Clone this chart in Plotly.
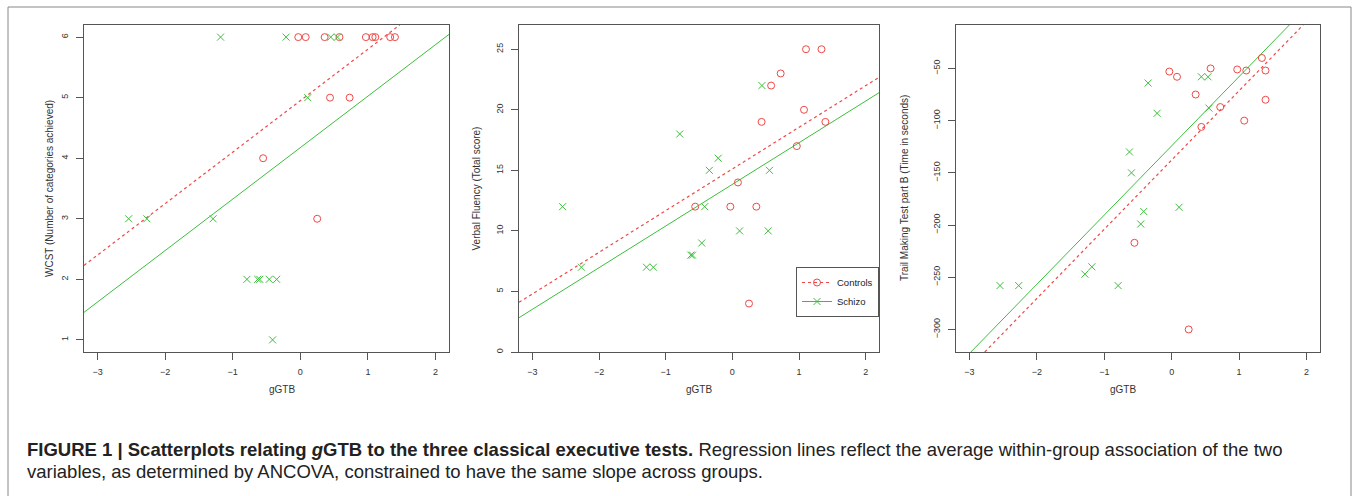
import plotly.graph_objects as go

W, H = 1355, 496

# ---------------- data ----------------
x_range = [-3.2, 2.2]
x_ticks = [-3, -2, -1, 0, 1, 2]

# Panel 1: WCST
ctrl_x_wcst = [-0.03, 0.08, 0.36, 0.58, 0.97, 1.07, 1.11, 1.33, 1.40, 0.44, 0.73, -0.55, 0.25]
ctrl_y_wcst = [6, 6, 6, 6, 6, 6, 6, 6, 6, 5, 5, 4, 3]
schz_x_wcst = [-1.18, -0.21, 0.45, 0.55, 0.11, -2.54, -2.27, -1.29, -0.79, -0.63, -0.60, -0.46, -0.35, -0.41]
schz_y_wcst = [6, 6, 6, 6, 5, 3, 3, 3, 2, 2, 2, 2, 2, 1]

# Panel 2: Verbal fluency
ctrl_x_vf = [1.105, 1.337, 0.725, 0.582, 0.439, 1.075, 1.396, 0.967, 0.084, -0.557, -0.03, 0.36, 0.25]
ctrl_y_vf = [25, 25, 23, 22, 19, 20, 19, 17, 14, 12, 12, 12, 4]
schz_x_vf = [-2.546, -2.264, -1.288, -1.184, -0.789, -0.622, -0.597, -0.459, -0.414, -0.345, -0.212, 0.109, 0.444, 0.557, 0.538]
schz_y_vf = [12, 7, 7, 7, 18, 8, 8, 9, 12, 15, 16, 10, 22, 15, 10]

# Panel 3: Trail making test B
ctrl_x_tmt = [-0.035, 0.079, 0.577, 0.355, 0.972, 1.106, 1.338, 1.392, 1.392, 0.72, 0.44, 1.076, -0.553, 0.252]
ctrl_y_tmt = [-53, -58, -50, -75, -51, -52, -40, -52, -80, -87, -106, -100, -217, -300]
schz_x_tmt = [-2.547, -2.27, -1.288, -1.185, -0.795, -0.627, -0.597, -0.459, -0.415, -0.350, -0.217, 0.109, 0.44, 0.538, 0.553]
schz_y_tmt = [-258, -258, -247, -240, -258, -130, -150, -199, -187, -64, -93, -183, -58, -58, -88]

# ANCOVA regression lines (common slope per test)
slopes = [0.85, 3.44, 66.3]
ctrl_intercepts = [4.95, 15.11, -137.7]
schz_intercepts = [4.175, 13.84, -124.1]

y_ranges = [[0.8, 6.2], [0, 27], [-321.6, -8.4]]
y_ticks = [[1, 2, 3, 4, 5, 6], [0, 5, 10, 15, 20, 25], [-300, -250, -200, -150, -100, -50]]
y_titles = ["WCST (Number of categories achieved)", "Verbal Fluency (Total score)",
            "Trail Making Test part B (Time in seconds)"]
x_title = "gGTB"

# ---------------- layout helpers ----------------
panels_px = [(84, 449), (519, 879), (956, 1320)]
top_px, bot_px = 25, 352
ytitle_px = [42, 476, 912]

RED = "#f04848"
GREEN = "#3cbf3c"
AX = "#555555"
FONT = "Liberation Sans"

def px_x(p):
    return p / W

def px_y(p):
    return 1 - p / H

def clipped_line(a, b, xr, yr):
    """Segment of y = a + b*x that lies inside the x and y ranges."""
    x0, x1 = xr
    if b != 0:
        xa = (yr[0] - a) / b
        xb = (yr[1] - a) / b
        lo, hi = min(xa, xb), max(xa, xb)
        x0, x1 = max(x0, lo), min(x1, hi)
    xs = [x0, x1]
    return xs, [a + b * v for v in xs]

fig = go.Figure()

data = [
    (ctrl_x_wcst, ctrl_y_wcst, schz_x_wcst, schz_y_wcst),
    (ctrl_x_vf, ctrl_y_vf, schz_x_vf, schz_y_vf),
    (ctrl_x_tmt, ctrl_y_tmt, schz_x_tmt, schz_y_tmt),
]

for i, (cx, cy, sx, sy) in enumerate(data):
    xa = "x" if i == 0 else f"x{i+1}"
    ya = "y" if i == 0 else f"y{i+1}"
    lxc, lyc = clipped_line(ctrl_intercepts[i], slopes[i], x_range, y_ranges[i])
    lxs, lys = clipped_line(schz_intercepts[i], slopes[i], x_range, y_ranges[i])
    fig.add_trace(go.Scatter(x=lxc, y=lyc,
                             mode="lines", line=dict(color=RED, width=1.2, dash="dot"),
                             xaxis=xa, yaxis=ya, showlegend=False, hoverinfo="skip"))
    fig.add_trace(go.Scatter(x=lxs, y=lys,
                             mode="lines", line=dict(color=GREEN, width=1),
                             xaxis=xa, yaxis=ya, showlegend=False, hoverinfo="skip"))
    fig.add_trace(go.Scatter(x=cx, y=cy, mode="markers",
                             marker=dict(symbol="circle-open", size=7, color=RED, line=dict(width=1)),
                             xaxis=xa, yaxis=ya, showlegend=False))
    fig.add_trace(go.Scatter(x=sx, y=sy, mode="markers",
                             marker=dict(symbol="x-thin-open", size=7, color=GREEN, line=dict(width=1, color=GREEN)),
                             xaxis=xa, yaxis=ya, showlegend=False))

# legend entries (in panel 2)
fig.add_trace(go.Scatter(x=[None], y=[None], mode="lines+markers", name="Controls",
                         line=dict(color=RED, width=1.2, dash="dot"),
                         marker=dict(symbol="circle-open", size=7, color=RED),
                         xaxis="x2", yaxis="y2"))
fig.add_trace(go.Scatter(x=[None], y=[None], mode="lines+markers", name="Schizo",
                         line=dict(color=GREEN, width=1),
                         marker=dict(symbol="x-thin-open", size=7, color=GREEN, line=dict(width=1, color=GREEN)),
                         xaxis="x2", yaxis="y2"))

layout = dict(
    width=W, height=H,
    margin=dict(l=0, r=0, t=0, b=0),
    paper_bgcolor="white", plot_bgcolor="white",
    font=dict(family=FONT, color="#333333", size=10),
    hovermode=False,
    showlegend=True,
    legend=dict(x=px_x(879), y=px_y(317), xanchor="right", yanchor="bottom",
                bgcolor="white", bordercolor=AX, borderwidth=1,
                font=dict(size=9.5, color="#222222", family=FONT),
                itemwidth=30, tracegroupgap=0),
)

annotations = []
for i, (l, r) in enumerate(panels_px):
    sfx = "" if i == 0 else str(i + 1)
    layout[f"xaxis{sfx}"] = dict(
        domain=[px_x(l), px_x(r)], range=x_range, tickvals=x_ticks,
        anchor=f"y{sfx}", showgrid=False, zeroline=False,
        showline=True, mirror=True, linecolor=AX, linewidth=1,
        ticks="outside", ticklen=7, tickcolor=AX, tickwidth=1,
        tickfont=dict(size=9, color="#333333"), ticklabelstandoff=4,
    )
    layout[f"yaxis{sfx}"] = dict(
        domain=[px_y(bot_px), px_y(top_px)], range=y_ranges[i], tickvals=y_ticks[i],
        anchor=f"x{sfx}", showgrid=False, zeroline=False,
        showline=True, mirror=True, linecolor=AX, linewidth=1,
        ticks="outside", ticklen=7, tickcolor=AX, tickwidth=1, tickangle=-90,
        tickfont=dict(size=9, color="#333333"), ticklabelstandoff=4,
    )
    annotations.append(dict(x=px_x(ytitle_px[i]), y=px_y((top_px + bot_px) / 2), xref="paper", yref="paper",
                            text=y_titles[i], textangle=-90, showarrow=False,
                            font=dict(size=10, color="#333333", family=FONT)))
    annotations.append(dict(x=px_x((l + r) / 2), y=px_y(397), xref="paper", yref="paper",
                            text=x_title, showarrow=False,
                            font=dict(size=10, color="#333333", family=FONT)))

annotations.append(dict(
    x=px_x(25), y=px_y(449), xref="paper", yref="paper", xanchor="left", yanchor="middle",
    text="<b>FIGURE 1 | Scatterplots relating <i>g</i>GTB to the three classical executive tests.</b> "
         "Regression lines reflect the average within-group association of the two",
    showarrow=False, align="left", font=dict(size=18.5, color="#222222", family=FONT)))
annotations.append(dict(
    x=px_x(25), y=px_y(471), xref="paper", yref="paper", xanchor="left", yanchor="middle",
    text="variables, as determined by ANCOVA, constrained to have the same slope across groups.",
    showarrow=False, align="left", font=dict(size=18.5, color="#222222", family=FONT)))

layout["annotations"] = annotations
layout["shapes"] = [dict(type="rect", xref="paper", yref="paper",
                         x0=px_x(8), x1=px_x(1351), y0=px_y(500), y1=px_y(7),
                         line=dict(color="#888888", width=1), fillcolor="rgba(0,0,0,0)")]

fig.update_layout(**layout)
fig.write_html("out.html", config={"displayModeBar": False, "staticPlot": True},
               post_script="document.body.style.margin='0';document.body.style.overflow='hidden';")
